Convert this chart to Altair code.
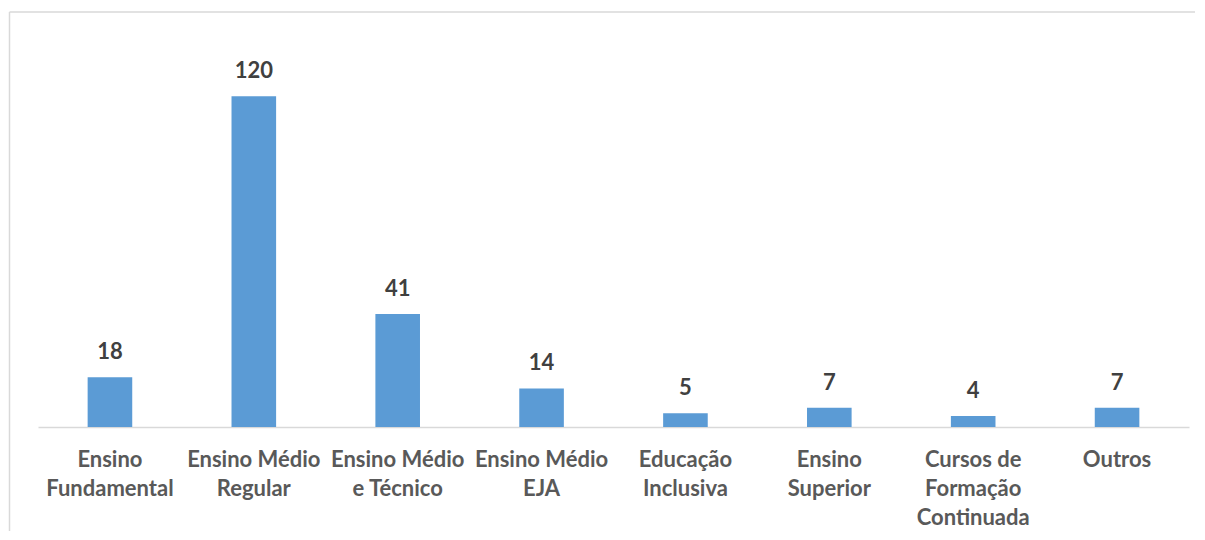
import json
import altair as alt
import pandas as pd

categories = ["Ensino Fundamental", "Ensino Médio Regular", "Ensino Médio e Técnico",
              "Ensino Médio EJA", "Educação Inclusiva", "Ensino Superior",
              "Cursos de Formação Continuada", "Outros"]
values = [18, 120, 41, 14, 5, 7, 4, 7]
label_lines = [["Ensino", "Fundamental"], ["Ensino Médio", "Regular"], ["Ensino Médio", "e Técnico"],
               ["Ensino Médio", "EJA"], ["Educação", "Inclusiva"], ["Ensino", "Superior"],
               ["Cursos de", "Formação", "Continuada"], ["Outros"]]

df = pd.DataFrame({"cat": categories, "val": values})
mapping = json.dumps(dict(zip(categories, label_lines)), ensure_ascii=False)

FONT = "Lato"
W, H = 1151, 386

x_enc = alt.X("cat:N", sort=categories, title=None,
              scale=alt.Scale(paddingInner=0.69, paddingOuter=0.345),
              axis=alt.Axis(labelExpr=f"{mapping}[datum.label]", labelAngle=0,
                            labelFont=FONT, labelFontSize=22, labelFontWeight="bold",
                            labelColor="#595959", labelPadding=22, labelLineHeight=29,
                            ticks=False, domainColor="#d9d9d9", domainWidth=1.5,
                            labelLimit=250))
y_enc = alt.Y("val:Q", scale=alt.Scale(domain=[0, 140]), axis=None)

bars = alt.Chart(df).mark_bar(color="#5B9BD5").encode(x=x_enc, y=y_enc)
text = alt.Chart(df).mark_text(dy=-13, baseline="bottom", font=FONT, fontSize=22,
                               fontWeight="bold", color="#404040").encode(
    x=alt.X("cat:N", sort=categories), y="val:Q", text="val:Q")

border_df = pd.DataFrame({"k": [0]})
top_rule = alt.Chart(border_df).mark_rule(color="#d9d9d9", strokeWidth=1.5).encode(
    x=alt.value(-28.5), x2=alt.value(1157), y=alt.value(-29))
left_rule = alt.Chart(border_df).mark_rule(color="#d9d9d9", strokeWidth=1.5).encode(
    x=alt.value(-28.5), y=alt.value(-29), y2=alt.value(490))

chart = alt.layer(bars, text, top_rule, left_rule).properties(
    width=W, height=H,
    padding={"left": 0, "top": 3, "right": 0, "bottom": 0},
).configure(background="white").configure_view(stroke=None)

chart.save("out.html", embed_options={"renderer": "svg", "actions": False})
